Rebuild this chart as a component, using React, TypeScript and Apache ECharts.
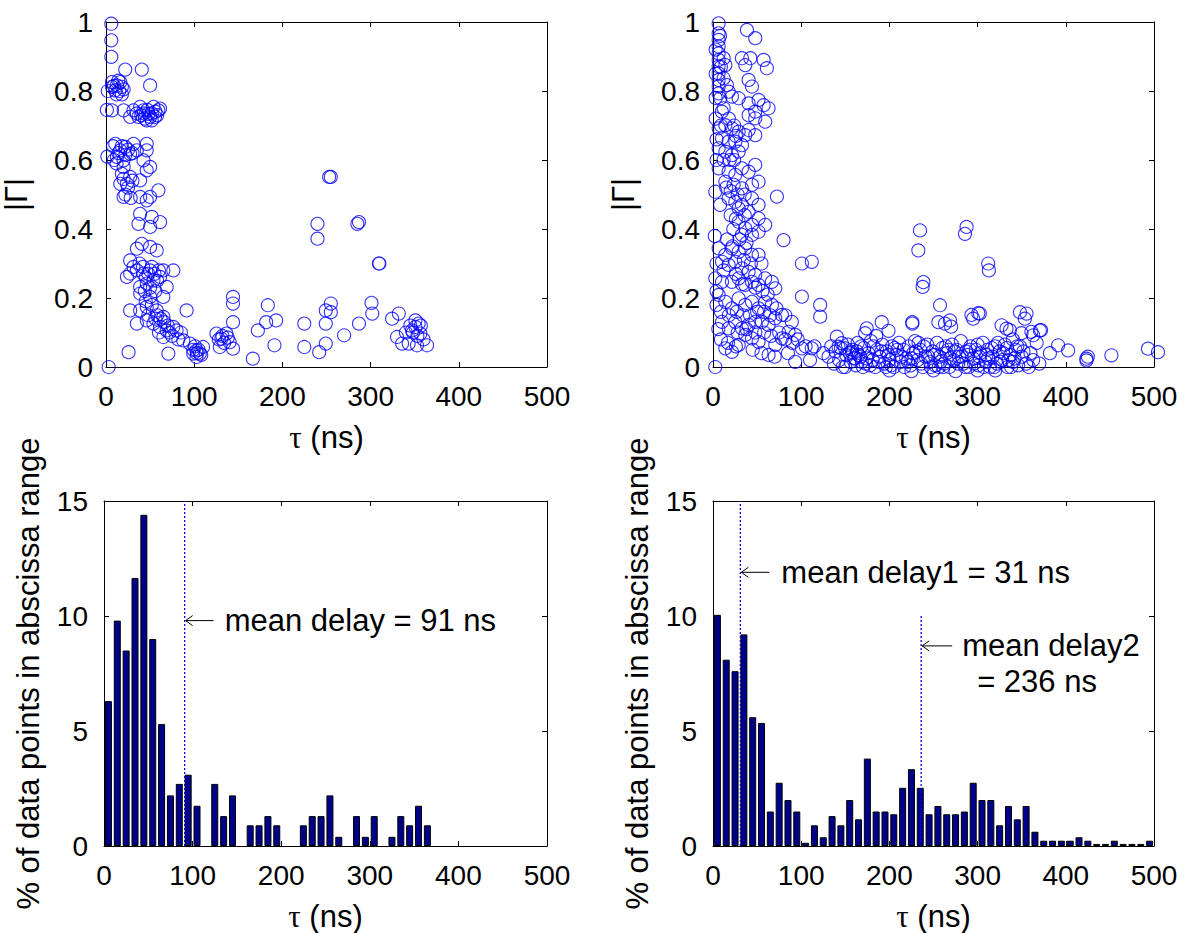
import React, { useEffect, useRef } from "react";
import * as echarts from "echarts";

const SANS = "'Liberation Sans', Arial, Helvetica, sans-serif";
const SERIF = "'Liberation Serif', 'Times New Roman', serif";

// Axis ticks
const tauMin = 0;
const tauMax = 500;
const tauStep = 100;
const gammaMax = 1;
const gammaStep = 0.2;
const pctMax = 15;
const pctStep = 5;

// |Gamma| vs tau, left dataset
const scatterLeft: number[][] = [
  [6, 0.995], [6, 0.947], [6, 0.899], [21.8, 0.862], [40.6, 0.862], [50, 0.816],
  [6.8, 0.826], [6.8, 0.812], [12.4, 0.816], [18, 0.812], [10.5, 0.802], [16.2, 0.826],
  [6.8, 0.744], [20, 0.744], [31.2, 0.744], [36.8, 0.725], [42.5, 0.744], [48.1, 0.734],
  [53.8, 0.754], [59.4, 0.744], [46.2, 0.715], [38.7, 0.754], [27.4, 0.725], [55.6, 0.725],
  [61.3, 0.749], [51.9, 0.715], [10.5, 0.647], [16.2, 0.628], [21.8, 0.638], [27.4, 0.618],
  [12.4, 0.609], [19.9, 0.599], [35, 0.628], [46.2, 0.628], [46.2, 0.647], [42.5, 0.599],
  [31.2, 0.647], [46.2, 0.57], [50, 0.58], [18, 0.56], [23.7, 0.531], [16.2, 0.531],
  [27.4, 0.551], [38.7, 0.541], [59.4, 0.512], [19.9, 0.493], [38.7, 0.493], [46.2, 0.483],
  [50, 0.493], [61.3, 0.42], [51.9, 0.435], [36.8, 0.415], [38.7, 0.444], [50, 0.406],
  [40.6, 0.357], [50, 0.348], [57.5, 0.338], [35, 0.343], [27.4, 0.309], [31.2, 0.29],
  [35, 0.28], [42.5, 0.271], [50, 0.28], [65, 0.28], [76.3, 0.28], [46.2, 0.242],
  [53.8, 0.251], [61.3, 0.261], [38.7, 0.232], [68.8, 0.232], [27.4, 0.271], [23.7, 0.261],
  [38.7, 0.213], [50, 0.203], [65, 0.203], [27.4, 0.164], [38.7, 0.164], [46.2, 0.174],
  [57.5, 0.164], [35, 0.126], [46.2, 0.135], [53.8, 0.126], [65, 0.145], [68.8, 0.106],
  [76.3, 0.116], [61.3, 0.116], [91.4, 0.164], [65, 0.087], [70.7, 0.039], [80, 0.106],
  [87.6, 0.077], [95.1, 0.068], [102.6, 0.048], [106.4, 0.039], [98.9, 0.039], [110, 0.058],
  [102.6, 0.029], [25.6, 0.043], [3, 0.0], [130.8, 0.082], [125.2, 0.097], [136.5, 0.097],
  [140.2, 0.072], [144, 0.053], [129, 0.058], [144, 0.203], [144, 0.184], [144, 0.13],
  [166.5, 0.024], [172.2, 0.106], [181.6, 0.13], [183.5, 0.179], [192.9, 0.135], [191, 0.063],
  [224.8, 0.126], [224.8, 0.058], [249.2, 0.126], [249.2, 0.164], [254.9, 0.184], [254.9, 0.159],
  [241.7, 0.043], [249.2, 0.068], [270, 0.092], [286.8, 0.126], [301, 0.186], [301.9, 0.155],
  [253, 0.551], [254.9, 0.551], [239.8, 0.415], [239.8, 0.372], [285, 0.415], [286.8, 0.42],
  [309.4, 0.3], [310, 0.3], [324.4, 0.14], [332, 0.155], [330, 0.087], [335.7, 0.068],
  [350.8, 0.135], [350.8, 0.116], [354.5, 0.126], [347, 0.106], [356.4, 0.097], [364, 0.063],
  [352.6, 0.063], [343.2, 0.068], [1, 0.745], [1.5, 0.61], [2, 0.8],
  [12, 0.79], [15, 0.8], [9, 0.815], [14, 0.83], [18, 0.79], [20, 0.805],
  [40, 0.73], [44, 0.72], [47, 0.745], [52, 0.735], [56, 0.74], [43, 0.735], [50, 0.725],
  [35, 0.735], [58, 0.73], [8, 0.64], [14, 0.62], [18, 0.64], [22, 0.615], [25, 0.63],
  [30, 0.62], [12, 0.59], [9, 0.6], [20, 0.58], [20, 0.545], [25, 0.52], [30, 0.54],
  [22, 0.5], [28, 0.49], [38, 0.3], [42, 0.29], [45, 0.26], [48, 0.27], [52, 0.29],
  [55, 0.27], [58, 0.25], [44, 0.22], [50, 0.23], [56, 0.22], [60, 0.28], [45, 0.19],
  [52, 0.18], [58, 0.15], [62, 0.14], [66, 0.13], [70, 0.12], [72, 0.1], [56, 0.14],
  [48, 0.15], [60, 0.1], [75, 0.09], [82, 0.08], [85, 0.1], [99, 0.05], [103, 0.04],
  [101, 0.06], [105, 0.05], [108, 0.035], [128, 0.08], [132, 0.09], [134, 0.07], [138, 0.085],
  [345, 0.12], [348, 0.1], [353, 0.09], [357, 0.12], [360, 0.08], [340, 0.1]
];

// |Gamma| vs tau, right dataset
const scatterRight: number[][] = [
  [6.4, 0.996], [6.4, 0.967], [6.4, 0.948], [6.4, 0.929], [6.4, 0.909], [6.4, 0.89],
  [6.4, 0.871], [6.4, 0.851], [6.4, 0.832], [6.4, 0.813], [6.4, 0.793], [12.1, 0.895],
  [14, 0.875], [12.1, 0.837], [15.8, 0.817], [17.7, 0.798], [21.5, 0.784], [38.5, 0.977],
  [47.9, 0.953], [32.8, 0.895], [36.6, 0.875], [42.3, 0.895], [57.4, 0.89], [61.1, 0.866],
  [40.4, 0.832], [44.2, 0.813], [29.1, 0.779], [40.4, 0.764], [51.7, 0.774], [57.4, 0.759],
  [63, 0.75], [47.9, 0.74], [12.1, 0.75], [8.3, 0.779], [59.2, 0.711], [47.9, 0.721],
  [40.4, 0.73], [6.4, 0.692], [14, 0.701], [21.5, 0.692], [29.1, 0.682], [36.6, 0.672],
  [10.2, 0.663], [17.7, 0.653], [25.3, 0.653], [32.8, 0.643], [6.4, 0.634], [14, 0.624],
  [21.5, 0.614], [29.1, 0.624], [40.4, 0.687], [47.9, 0.672], [6.4, 0.576], [17.7, 0.566],
  [25.3, 0.557], [32.8, 0.576], [40.4, 0.566], [47.9, 0.586], [2.6, 0.508], [14, 0.537],
  [23.4, 0.528], [32.8, 0.518], [44.2, 0.528], [51.7, 0.537], [17.7, 0.489], [25.3, 0.479],
  [32.8, 0.47], [44.2, 0.489], [51.7, 0.47], [29.1, 0.46], [40.4, 0.45], [72.5, 0.494],
  [29.1, 0.421], [36.6, 0.402], [44.2, 0.412], [51.7, 0.431], [59.2, 0.412], [32.8, 0.383],
  [44.2, 0.383], [51.7, 0.392], [80, 0.368], [6.4, 0.344], [14, 0.325], [21.5, 0.344],
  [29.1, 0.334], [36.6, 0.344], [44.2, 0.325], [51.7, 0.325], [10.2, 0.305], [17.7, 0.296],
  [25.3, 0.305], [32.8, 0.286], [40.4, 0.276], [47.9, 0.267], [100.8, 0.3], [112, 0.305],
  [2.6, 0.257], [10.2, 0.247], [21.5, 0.247], [29.1, 0.257], [36.6, 0.238], [44.2, 0.247],
  [51.7, 0.238], [59.2, 0.257], [66.8, 0.247], [70.6, 0.228], [100.8, 0.204], [6.4, 0.209],
  [14, 0.189], [21.5, 0.17], [29.1, 0.199], [36.6, 0.18], [44.2, 0.189], [51.7, 0.17],
  [59.2, 0.189], [66.8, 0.18], [121.5, 0.18], [121.5, 0.146], [10.2, 0.131], [17.7, 0.112],
  [25.3, 0.131], [32.8, 0.112], [40.4, 0.122], [47.9, 0.131], [55.5, 0.131], [63, 0.122],
  [70.6, 0.141], [78.1, 0.151], [89.4, 0.131], [14, 0.054], [21.5, 0.044], [29.1, 0.064],
  [36.6, 0.093], [44.2, 0.083], [51.7, 0.073], [63, 0.035], [70.6, 0.064], [78.1, 0.083],
  [85.7, 0.102], [93.2, 0.093], [100.8, 0.054], [112, 0.054], [2.6, 0.0], [93.2, 0.015],
  [140.4, 0.088], [142.3, 0.059], [146, 0.069], [149.8, 0.054], [157.4, 0.044], [164.9, 0.035],
  [168.7, 0.015], [161.1, 0.025],
  [234.7, 0.396], [232.8, 0.338], [287.5, 0.406], [285.7, 0.386], [312, 0.3], [312.8, 0.28],
  [238.5, 0.246], [237.7, 0.232], [257.4, 0.179], [302.6, 0.155], [295, 0.14], [348, 0.159],
  [355.5, 0.155], [353.6, 0.14], [191.3, 0.13], [226, 0.126], [226, 0.13], [263, 0.126],
  [255.5, 0.13], [268.7, 0.135], [327.2, 0.121], [332.8, 0.111], [370.6, 0.106], [363, 0.092],
  [391.3, 0.063], [402.6, 0.048], [423.4, 0.024], [423.4, 0.019], [451.7, 0.034], [493.2, 0.053],
  [504.5, 0.043], [174.3, 0.112], [172.5, 0.098], [270, 0.117], [293, 0.151], [300.8, 0.156],
  [336.6, 0.107], [349.8, 0.098], [361, 0.102], [372, 0.107], [425, 0.03], [382, 0.04],
  [367, 0.07], [340, 0.08], [345, 0.06], [185, 0.09], [199, 0.105],
  [131, 0.03], [134, 0.06], [137, 0.01], [139, 0.045], [143, 0.02], [147, 0.0], [151, 0.035],
  [153, 0.065], [156, 0.015], [158, 0.05], [162, 0.005], [164, 0.07], [167, 0.03], [171, 0.055],
  [173, 0.01], [176, 0.04], [179, 0.075], [181, 0.02], [184, 0.0], [186, 0.05], [189, 0.03],
  [192, 0.065], [194, 0.01], [197, 0.045], [200, 0.02], [203, 0.06], [205, 0.0], [208, 0.035],
  [211, 0.07], [213, 0.015], [216, 0.05], [219, 0.025], [222, 0.06], [224, 0.005], [227, 0.04],
  [229, 0.075], [232, 0.02], [235, 0.05], [238, 0.0], [241, 0.03], [243, 0.065], [246, 0.015],
  [249, 0.045], [252, 0.005], [254, 0.07], [257, 0.03], [260, 0.055], [262, 0.01], [265, 0.04],
  [268, 0.0], [271, 0.065], [273, 0.02], [276, 0.05], [279, 0.03], [281, 0.075], [284, 0.01],
  [287, 0.045], [290, 0.0], [292, 0.06], [295, 0.025], [298, 0.05], [301, 0.005], [303, 0.04],
  [306, 0.07], [309, 0.015], [311, 0.05], [314, 0.0], [317, 0.03], [320, 0.06], [322, 0.01],
  [325, 0.045], [328, 0.02], [331, 0.065], [334, 0.0], [337, 0.035], [340, 0.015], [343, 0.05],
  [346, 0.005], [350, 0.03], [145, 0.055], [160, 0.025], [170, 0.0], [182, 0.06], [196, 0.0],
  [209, 0.05], [221, 0.015], [233, 0.07], [244, 0.03], [256, 0.0], [267, 0.05], [278, 0.01],
  [289, 0.035], [300, 0.065], [312, 0.025], [323, 0.07], [335, 0.02], [348, 0.06], [355, 0.01],
  [360, 0.04],
  [3, 0.92], [3, 0.85], [3, 0.78], [3, 0.72], [8, 0.96], [9, 0.87], [10, 0.74], [4, 0.66],
  [9, 0.7], [18, 0.72], [24, 0.7], [26, 0.67], [19, 0.6], [12, 0.6], [24, 0.6], [4, 0.6],
  [15, 0.52], [20, 0.51], [28, 0.5], [36, 0.5], [8, 0.47], [20, 0.44], [26, 0.43], [36, 0.44],
  [23, 0.4], [30, 0.37], [38, 0.36], [16, 0.37], [22, 0.35], [35, 0.31], [43, 0.3], [55, 0.3],
  [4, 0.3], [12, 0.28], [26, 0.27], [33, 0.24], [48, 0.23], [56, 0.22], [62, 0.21], [4, 0.18],
  [9, 0.16], [18, 0.15], [27, 0.16], [34, 0.15], [42, 0.15], [50, 0.16], [58, 0.16], [65, 0.15],
  [72, 0.17], [82, 0.15], [6, 0.11], [28, 0.1], [38, 0.11], [48, 0.1], [58, 0.1], [66, 0.09],
  [75, 0.1], [82, 0.08], [90, 0.07], [96, 0.08], [105, 0.06], [9, 0.08], [17, 0.07], [26, 0.06],
  [45, 0.05], [55, 0.04], [70, 0.03], [85, 0.04], [110, 0.02], [115, 0.06], [125, 0.04],
  [4, 0.22], [2, 0.38],
  [150, 0.0], [155, 0.04], [163, 0.045], [168, 0.06], [174, 0.025], [178, 0.005], [188, 0.015],
  [191, 0.045], [199, 0.035], [202, 0.005], [206, 0.055], [214, 0.03], [217, 0.0], [225, 0.025],
  [230, 0.045], [236, 0.01], [239, 0.06], [247, 0.0], [251, 0.035], [258, 0.015], [261, 0.0],
  [264, 0.06], [269, 0.025], [274, 0.045], [282, 0.03], [286, 0.0], [291, 0.05], [296, 0.01],
  [302, 0.03], [307, 0.0], [310, 0.035], [316, 0.055], [319, 0.0], [326, 0.015], [329, 0.04],
  [333, 0.055], [338, 0.0], [342, 0.025], [352, 0.045], [358, 0.0], [363, 0.02], [370, 0.01],
  [200, -0.01], [250, -0.01], [300, -0.01], [320, -0.01], [225, -0.012], [275, -0.012]
];

// Histogram bin centres (ns)
const binCenters: number[] = [
  5, 15, 25, 35, 45, 55, 65, 75, 85, 95,
  105, 115, 125, 135, 145, 155, 165, 175, 185, 195,
  205, 215, 225, 235, 245, 255, 265, 275, 285, 295,
  305, 315, 325, 335, 345, 355, 365, 375, 385, 395,
  405, 415, 425, 435, 445, 455, 465, 475, 485, 495
];

// % of data points per bin, left
const histLeft: number[] = [
  6.3, 9.8, 8.5, 11.65, 14.4, 9.0, 5.3, 2.2, 2.7, 3.1,
  1.75, 0, 2.7, 1.3, 2.2, 0, 0.9, 0.9, 1.3, 0.9,
  0, 0, 0.9, 1.3, 1.3, 2.2, 0.4, 0, 1.3, 0.4,
  1.3, 0, 0.4, 1.3, 0.9, 1.75, 0.9, 0, 0, 0,
  0, 0, 0, 0, 0, 0, 0, 0, 0, 0
];

// % of data points per bin, right
const histRight: number[] = [
  10.05, 8.1, 7.6, 9.2, 5.6, 5.35, 1.5, 2.75, 2.0, 1.5,
  0.14, 0.9, 0.38, 1.3, 0.9, 2.0, 1.16, 3.8, 1.5, 1.5,
  1.38, 2.53, 3.34, 2.53, 1.38, 1.74, 1.38, 1.38, 1.5, 2.75,
  2.0, 2.0, 0.9, 1.74, 1.16, 1.74, 0.62, 0.23, 0.23, 0.23,
  0.23, 0.38, 0.23, 0.09, 0.09, 0.23, 0.09, 0.09, 0.09, 0.23
];

// Mean delays (ns) and extent of their marker lines (%)
const meanDelayLeft = 91;
const meanDelayLeftTop = 15;
const meanDelay1 = 31;
const meanDelay1Top = 15;
const meanDelay2 = 236;
const meanDelay2Top = 10;

const labelLeft = "mean delay = 91 ns";
const label1 = "mean delay1 = 31 ns";
const label2a = "mean delay2";
const label2b = "= 236 ns";

const xTitle = "{t|τ} (ns)";
const yTitleTop = "|Γ|";
const yTitleBottom = "% of data points in abscissa range";

const grids = [
  { left: 104, top: 22, width: 443, height: 345 },
  { left: 713, top: 22, width: 441, height: 345 },
  { left: 104, top: 501, width: 443, height: 345 },
  { left: 713, top: 501, width: 441, height: 345 },
];

const lineCommon = {
  axisLine: { show: true, onZero: false, lineStyle: { color: "#000", width: 1 } },
  axisTick: { show: true, inside: true, length: 5, lineStyle: { color: "#000", width: 1 } },
  splitLine: { show: false },
};

const nameStyle = {
  fontSize: 31,
  fontFamily: SANS,
  color: "#000",
  rich: { t: { fontSize: 31, fontFamily: SERIF, color: "#000" } },
};

function buildOption() {
  const xAxis: any[] = [];
  const yAxis: any[] = [];
  for (let g = 0; g < 4; g++) {
    xAxis.push({
      type: "value", gridIndex: g, min: tauMin, max: tauMax, interval: tauStep, position: "bottom",
      ...lineCommon,
      axisLabel: { fontSize: 28, color: "#000", fontFamily: SANS, margin: 15 },
      name: xTitle, nameLocation: "middle", nameGap: 55, nameTextStyle: nameStyle,
    });
  }
  for (let g = 0; g < 4; g++) {
    xAxis.push({
      type: "value", gridIndex: g, min: tauMin, max: tauMax, interval: tauStep, position: "top",
      ...lineCommon, axisLabel: { show: false },
    });
  }
  for (let g = 0; g < 4; g++) {
    const top = g < 2;
    yAxis.push({
      type: "value", gridIndex: g, min: 0, max: top ? gammaMax : pctMax, interval: top ? gammaStep : pctStep,
      position: "left",
      ...lineCommon,
      axisLabel: { fontSize: 28, color: "#000", fontFamily: SANS, margin: top ? 13 : 16 },
      name: top ? yTitleTop : yTitleBottom, nameLocation: "middle", nameGap: top ? 74 : 60,
      nameTextStyle: nameStyle,
    });
  }
  for (let g = 0; g < 4; g++) {
    const top = g < 2;
    yAxis.push({
      type: "value", gridIndex: g, min: 0, max: top ? gammaMax : pctMax, interval: top ? gammaStep : pctStep,
      position: "right",
      ...lineCommon, axisLabel: { show: false },
    });
  }

  const scatterStyle = {
    type: "scatter", symbol: "circle", symbolSize: 13, clip: false,
    itemStyle: { color: "rgba(0,0,0,0)", borderColor: "#0000ff", borderWidth: 1.1 },
  };
  const barStyle = {
    type: "bar", barWidth: 7, clip: false,
    itemStyle: { color: "#000088", borderColor: "#000", borderWidth: 1 },
  };
  const meanLine = (g: number, x: number, top: number) => ({
    type: "line", xAxisIndex: g, yAxisIndex: g, data: [[x, 0], [x, top]],
    symbol: "none", z: 5,
    lineStyle: { color: "#0000ff", width: 1.3, type: [2, 2] },
  });
  const toBars = (vals: number[]) =>
    binCenters.map((c, i) => [c, vals[i]]).filter((d) => d[1] > 0);

  return {
    animation: false,
    backgroundColor: "#fff",
    grid: grids.map((g) => ({ ...g, containLabel: false })),
    xAxis,
    yAxis,
    series: [
      { ...scatterStyle, xAxisIndex: 0, yAxisIndex: 0, data: scatterLeft },
      { ...scatterStyle, xAxisIndex: 1, yAxisIndex: 1, data: scatterRight },
      { ...barStyle, xAxisIndex: 2, yAxisIndex: 2, data: toBars(histLeft) },
      { ...barStyle, xAxisIndex: 3, yAxisIndex: 3, data: toBars(histRight) },
      meanLine(2, meanDelayLeft, meanDelayLeftTop),
      meanLine(3, meanDelay1, meanDelay1Top),
      meanLine(3, meanDelay2, meanDelay2Top),
    ],
  };
}

function arrow(x: number, y: number, len: number) {
  return [
    { type: "line", shape: { x1: x + 1, y1: y, x2: x + len, y2: y }, style: { stroke: "#000", lineWidth: 1 } },
    {
      type: "polyline",
      shape: { points: [[x + 8, y - 5], [x + 1, y], [x + 8, y + 5]] },
      style: { stroke: "#000", lineWidth: 1, fill: null },
    },
  ];
}

function label(x: number, y: number, text: string) {
  return {
    type: "text", x, y,
    style: { text, fontSize: 31, fontFamily: SANS, fill: "#000", verticalAlign: "middle", align: "left" },
  };
}

export default function App() {
  const ref = useRef<HTMLDivElement>(null);
  useEffect(() => {
    const chart = echarts.init(ref.current!, null, { renderer: "svg" });
    chart.setOption(buildOption() as any);
    const pL = chart.convertToPixel({ seriesIndex: 2 }, [meanDelayLeft, 9.8]) as number[];
    const p1 = chart.convertToPixel({ seriesIndex: 3 }, [meanDelay1, 11.9]) as number[];
    const p2 = chart.convertToPixel({ seriesIndex: 3 }, [meanDelay2, 8.7]) as number[];
    chart.setOption({
      graphic: [
        ...arrow(pL[0], pL[1], 29),
        label(pL[0] + 40, pL[1], labelLeft),
        ...arrow(p1[0], p1[1], 29),
        label(p1[0] + 41, p1[1], label1),
        ...arrow(p2[0], p2[1], 31),
        label(p2[0] + 41, p2[1], label2a),
        label(p2[0] + 56, p2[1] + 36, label2b),
      ],
    });
    return () => chart.dispose();
  }, []);
  return (
    <div
      ref={ref}
      style={{ position: "absolute", left: 0, top: 0, width: 1193, height: 933, background: "#fff" }}
    />
  );
}
